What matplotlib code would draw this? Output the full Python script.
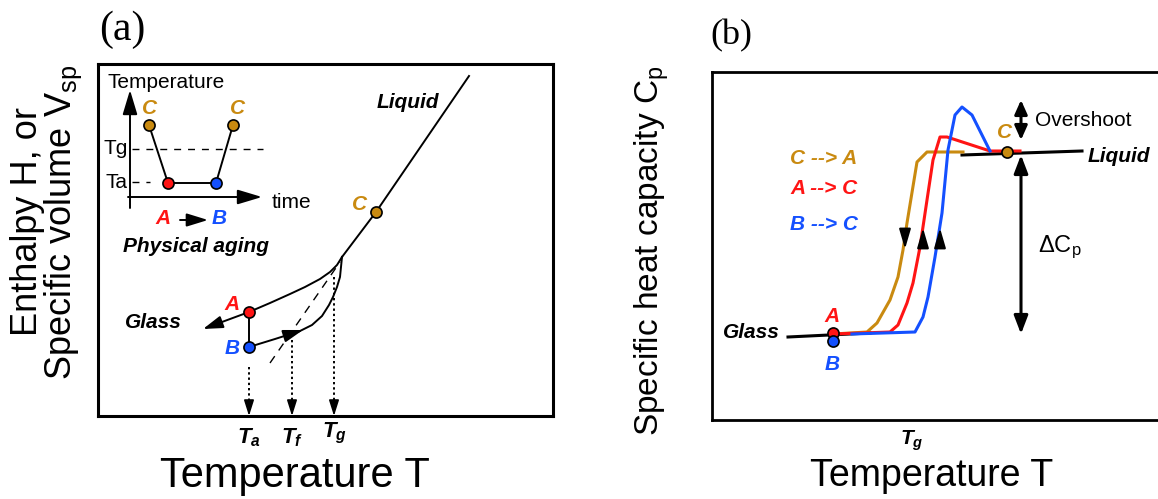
import matplotlib
matplotlib.use('Agg')
import matplotlib.pyplot as plt

plt.rcParams['font.family'] = ['Liberation Sans', 'DejaVu Sans']
plt.rcParams['mathtext.fontset'] = 'custom'
plt.rcParams['mathtext.rm'] = 'Liberation Sans'
plt.rcParams['mathtext.it'] = 'Liberation Sans:italic:bold'
plt.rcParams['mathtext.bf'] = 'Liberation Sans:bold'

GOLD = '#C98A10'
RED = '#FF1414'
BLUE = '#1450FF'
W, H = 1158, 499

# ---------------- Panel (a): schematic H/V vs T (pixel-like units, y downward)
liquid_T = [469, 376, 342]
liquid_H = [76, 212, 257]
glassA_T = [342, 337, 330, 320, 305, 290, 270, 249]
glassA_H = [257, 265, 272, 279, 287, 294, 303, 312]
glass_arrow_T = [249, 203]
glass_arrow_H = [312, 329]
glassB_T = [249, 275, 300, 312, 322, 329, 333, 337, 340, 341, 342]
glassB_H = [347, 339, 331, 325, 316, 305, 297, 287, 277, 267, 257]
extrap_T = [270, 340]
extrap_H = [363, 262]
state_names = ['A', 'B', 'C']
state_T = [249, 249, 376]
state_H = [312, 347, 212]
state_colors = [RED, BLUE, GOLD]
tick_names = [r'$T_a$', r'$T_f$', r'$T_g$']
tick_T = [249, 292, 334]
tick_top = [367, 340, 277]

# inset: temperature vs time protocol
inset_time = [149, 168, 216, 233]
inset_temp = [125, 183, 183, 125]
inset_colors = [GOLD, RED, BLUE, GOLD]
inset_Tg, inset_Ta = 149, 182

# ---------------- Panel (b): Cp vs T
glass_line_T = [788, 870]
glass_line_C = [337, 333]
liquid_line_T = [962, 1082]
liquid_line_C = [155, 151]
CA_T = [833, 867, 877, 890, 898, 903, 907, 917, 927, 963]
CA_C = [334, 332, 323, 300, 277, 250, 223, 162, 152, 152]
AC_T = [833, 890, 898, 907, 913, 920, 927, 933, 940, 947, 990, 1020]
AC_C = [334, 332, 325, 303, 283, 247, 200, 160, 137, 137, 151, 151]
BC_T = [852, 915, 923, 928, 935, 942, 948, 955, 962, 972, 990]
BC_C = [334, 332, 317, 297, 257, 213, 150, 115, 107, 115, 151]
b_state_T = [833, 833, 1007]
b_state_C = [333, 341, 152]

fig = plt.figure(figsize=(W / 100, H / 100), dpi=100)


def add_px_axes(x0, y0, x1, y1):
    ax = fig.add_axes([x0 / W, 1 - y1 / H, (x1 - x0) / W, (y1 - y0) / H])
    ax.set_xlim(x0, x1)
    ax.set_ylim(y1, y0)
    ax.set_xticks([])
    ax.set_yticks([])
    return ax


def arrow(ax, start, end, lw=1.5, hl=1.0, hw=0.35, ms=10, ls='-', color='k', style='-|>'):
    ax.annotate('', xy=end, xytext=start, annotation_clip=False,
                arrowprops=dict(arrowstyle=f'{style},head_length={hl},head_width={hw}',
                                color=color, lw=lw, ls=ls, shrinkA=0, shrinkB=0,
                                mutation_scale=ms))


BI = dict(fontweight='bold', fontstyle='italic', fontsize=15)

# ================= Panel (a)
ax = add_px_axes(98, 64, 553, 416)
for s in ax.spines.values():
    s.set_linewidth(2.2)

kw = dict(color='k', lw=1.4, clip_on=False)
ax.plot(liquid_T, liquid_H, **kw)
ax.plot(glassA_T, glassA_H, **kw)
ax.plot(glassB_T, glassB_H, **kw)
arrow(ax, (glass_arrow_T[0], glass_arrow_H[0]), (glass_arrow_T[1], glass_arrow_H[1]),
      lw=1.4, hl=1.2, hw=0.38)
arrow(ax, (284, 336), (303, 330), lw=1.4, hl=1.2, hw=0.38)
ax.plot(extrap_T, extrap_H, color='k', lw=1.0, ls=(0, (6, 5)))
ax.plot([state_T[0], state_T[1]], [state_H[0], state_H[1]], **kw)
for t, top in zip(tick_T, tick_top):
    ax.plot([t, t], [top, 404], color='k', lw=1.4, ls=(0, (1.2, 1.5)))
    arrow(ax, (t, 403), (t, 416), lw=1.2, hl=0.95, hw=0.3)
for name, t in zip(tick_names, tick_T):
    ax.text(t, 438 if name != r'$T_g$' else 433, name, ha='center', va='center', fontsize=16)
for t, h, c in zip(state_T, state_H, state_colors):
    ax.plot(t, h, 'o', ms=8, mfc=c, mec='k', mew=1.2, zorder=5)
ax.text(240, 305, 'A', color=RED, ha='right', va='center', **BI)
ax.text(240, 348, 'B', color=BLUE, ha='right', va='center', **BI)
ax.text(367, 205, 'C', color=GOLD, ha='right', va='center', **BI)
ax.text(408, 103, 'Liquid', ha='center', va='center', **BI)
ax.text(153, 323, 'Glass', ha='center', va='center', **BI)

# inset
arrow(ax, (130, 208), (130, 90), lw=1.4, hl=1.5, hw=0.45)
arrow(ax, (128, 197), (262, 197), lw=1.4, hl=1.5, hw=0.45)
ax.plot([132, 263], [inset_Tg, inset_Tg], color='k', lw=1.0, ls=(0, (5, 5)))
ax.plot([132, 150], [inset_Ta, inset_Ta], color='k', lw=1.0, ls=(0, (5, 5)))
ax.plot(inset_time, inset_temp, color='k', lw=1.4)
for t, v, c in zip(inset_time, inset_temp, inset_colors):
    ax.plot(t, v, 'o', ms=8, mfc=c, mec='k', mew=1.2, zorder=5)
ax.text(108, 82, 'Temperature', ha='left', va='center', fontsize=15)
ax.text(272, 203, 'time', ha='left', va='center', fontsize=15)
ax.text(116, 149, 'Tg', ha='center', va='center', fontsize=15)
ax.text(116, 182, 'Ta', ha='center', va='center', fontsize=15)
ax.text(150, 108, 'C', color=GOLD, ha='center', va='center', **BI)
ax.text(238, 108, 'C', color=GOLD, ha='center', va='center', **BI)
ax.text(163, 219, 'A', color=RED, ha='center', va='center', **BI)
ax.text(219, 219, 'B', color=BLUE, ha='center', va='center', **BI)
arrow(ax, (180, 220), (208, 220), lw=1.4, hl=1.3, hw=0.4)
ax.text(123, 247, 'Physical aging', ha='left', va='center', **BI)

# ================= Panel (b)
bx = add_px_axes(712, 72, 1158, 420)
for s in bx.spines.values():
    s.set_linewidth(2.0)
bx.spines['right'].set_visible(False)

bx.plot(glass_line_T, glass_line_C, color='k', lw=2.2)
bx.plot(liquid_line_T, liquid_line_C, color='k', lw=2.2)
bx.plot(CA_T, CA_C, color=GOLD, lw=2.2)
bx.plot(AC_T, AC_C, color=RED, lw=2.2)
bx.plot(BC_T, BC_C, color=BLUE, lw=2.2)
arrow(bx, (905, 230), (905, 249), lw=1.5, hl=1.2, hw=0.35)
arrow(bx, (923, 247), (923, 228), lw=1.5, hl=1.2, hw=0.35)
arrow(bx, (940, 247), (940, 228), lw=1.5, hl=1.2, hw=0.35)
for t, c, col in zip(b_state_T, b_state_C, state_colors):
    bx.plot(t, c, 'o', ms=8, mfc=col, mec='k', mew=1.2, zorder=5)
arrow(bx, (1021, 140), (1021, 100), lw=2.2, hl=0.85, hw=0.38, style='<|-|>')
arrow(bx, (1021, 334), (1021, 155), lw=2.2, hl=1.1, hw=0.42, style='<|-|>')
bx.text(1035, 121, 'Overshoot', ha='left', va='center', fontsize=15)
bx.text(1038, 247, r'ΔC$_\mathrm{p}$', ha='left', va='center', fontsize=17)
bx.text(1088, 157, 'Liquid', ha='left', va='center', **BI)
bx.text(780, 333, 'Glass', ha='right', va='center', **BI)
bx.text(1005, 132, 'C', color=GOLD, ha='center', va='center', **BI)
bx.text(832, 317, 'A', color=RED, ha='center', va='center', **BI)
bx.text(832, 364, 'B', color=BLUE, ha='center', va='center', **BI)
bx.text(790, 158, 'C --> A', color=GOLD, ha='left', va='center', **BI)
bx.text(790, 188, 'A --> C', color=RED, ha='left', va='center', **BI)
bx.text(790, 225, 'B --> C', color=BLUE, ha='left', va='center', **BI)
bx.text(912, 441, r'$T_g$', ha='center', va='center', fontsize=15)

# ================= labels
fig.text(122 / W, 1 - 30 / H, '(a)', family='Liberation Serif', fontsize=30, ha='center', va='center')
fig.text(731 / W, 1 - 36 / H, '(b)', family='Liberation Serif', fontsize=26, ha='center', va='center')
fig.text(295 / W, 1 - 476 / H, 'Temperature T', fontsize=30, ha='center', va='center')
fig.text(932 / W, 1 - 476 / H, 'Temperature T', fontsize=27, ha='center', va='center')
fig.text(47 / W, 1 - 222 / H, 'Enthalpy H, or\nSpecific volume V$_\\mathrm{sp}$', fontsize=26,
         rotation=90, ha='center', va='center', multialignment='center', linespacing=0.92)
fig.text(652 / W, 1 - 251 / H, 'Specific heat capacity C$_\\mathrm{p}$', fontsize=24,
         rotation=90, ha='center', va='center')

fig.savefig('out.png', dpi=100)
